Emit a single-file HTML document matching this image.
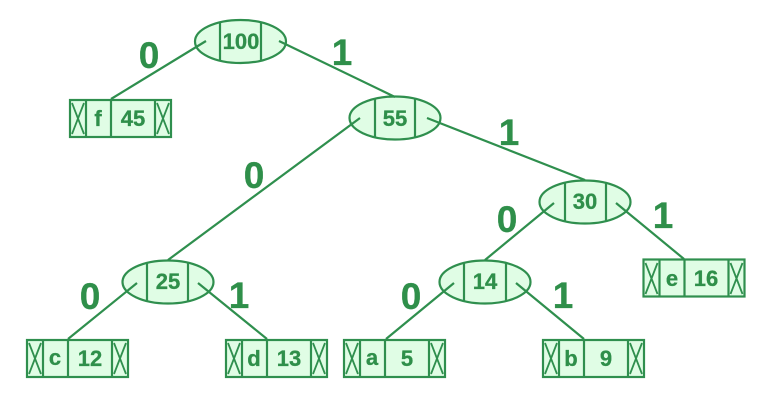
<!DOCTYPE html>
<html><head><meta charset="utf-8"><style>
html,body{margin:0;padding:0;background:#fff;width:768px;height:403px;overflow:hidden}
svg{display:block;filter:blur(0.3px)}
text{font-family:"Liberation Sans",sans-serif;font-weight:bold;fill:#2f8f4a;stroke:#2f8f4a;stroke-width:.3;text-anchor:middle}
.n{font-size:22px}
.b{font-size:37px;stroke-width:.6}
.s{stroke:#2f8f4e;stroke-width:2.2;fill:none}
.x{stroke:#2f8f4e;stroke-width:1.8;fill:none}
.f{stroke:#2f8f4e;stroke-width:2.2;fill:#e0fde5}
</style></head><body>
<svg width="768" height="403" viewBox="0 0 768 403" xmlns="http://www.w3.org/2000/svg">
<!-- ellipses -->
<g>
<ellipse class="f" cx="240.500" cy="41.500" rx="45.500" ry="21.500"/>
<path class="s" d="M220 22V61M261 22V61"/>
<ellipse class="f" cx="395" cy="118" rx="45.500" ry="21.500"/>
<path class="s" d="M375 99V138M415 99V138"/>
<ellipse class="f" cx="585" cy="202" rx="45.500" ry="21.500"/>
<path class="s" d="M565 183V222M606 183V222"/>
<ellipse class="f" cx="168" cy="282" rx="45.500" ry="21.500"/>
<path class="s" d="M147 263V302M188 263V302"/>
<ellipse class="f" cx="485" cy="282" rx="45.500" ry="21.500"/>
<path class="s" d="M464 263V302M506 263V302"/>
</g>
<!-- boxes -->
<g>
<rect class="f" x="70" y="100" width="101" height="37"/>
<path class="s" d="M86 100V137M111 100V137M155 100V137"/>
<path class="x" d="M72 103L84 134M84 103L72 134M157 103L169 134M169 103L157 134"/>
<rect class="f" x="27" y="340" width="101" height="37"/>
<path class="s" d="M43 340V377M68 340V377M112 340V377"/>
<path class="x" d="M29 343L41 374M41 343L29 374M114 343L126 374M126 343L114 374"/>
<rect class="f" x="226" y="340" width="101" height="37"/>
<path class="s" d="M242 340V377M267 340V377M311 340V377"/>
<path class="x" d="M228 343L240 374M240 343L228 374M313 343L325 374M325 343L313 374"/>
<rect class="f" x="344" y="340" width="101" height="37"/>
<path class="s" d="M360 340V377M385 340V377M429 340V377"/>
<path class="x" d="M346 343L358 374M358 343L346 374M431 343L443 374M443 343L431 374"/>
<rect class="f" x="543" y="340" width="101" height="37"/>
<path class="s" d="M559 340V377M584 340V377M628 340V377"/>
<path class="x" d="M545 343L557 374M557 343L545 374M630 343L642 374M642 343L630 374"/>
<rect class="f" x="643.500" y="259.500" width="101" height="37"/>
<path class="s" d="M659.500 260V297M684.500 260V297M728.500 260V297"/>
<path class="x" d="M645.500 263L657.500 294M657.500 263L645.500 294M730.500 263L742.500 294M742.500 263L730.500 294"/>
</g>
<!-- connectors -->
<path class="s" d="M206 41L111 99M279 41L395 97M360 118L168 260M427 118L585 180M554 203L485 260M616 203L684 259M137 283L68 339M198 283L267 339M454 283L386 339M516 283L584 339"/>
<!-- node text -->
<g class="n">
<text x="241" y="49">100</text>
<text x="395" y="126">55</text>
<text x="585" y="209">30</text>
<text x="168" y="289">25</text>
<text x="485" y="289">14</text>
<text x="98" y="126">f</text><text x="133" y="126">45</text>
<text x="55" y="365">c</text><text x="90" y="366">12</text>
<text x="254" y="366">d</text><text x="289" y="366">13</text>
<text x="372" y="365">a</text><text x="407" y="366">5</text>
<text x="571" y="366">b</text><text x="606" y="366">9</text>
<text x="672" y="286">e</text><text x="706" y="286">16</text>
</g>
<!-- edge labels -->
<g class="b">
<text x="149" y="68">0</text>
<text x="342" y="65">1</text>
<text x="509" y="145">1</text>
<text x="254" y="188">0</text>
<text x="507" y="232">0</text>
<text x="663" y="228">1</text>
<text x="90" y="309">0</text>
<text x="239" y="308">1</text>
<text x="411" y="309">0</text>
<text x="563" y="308">1</text>
</g>
</svg>
</body></html>
